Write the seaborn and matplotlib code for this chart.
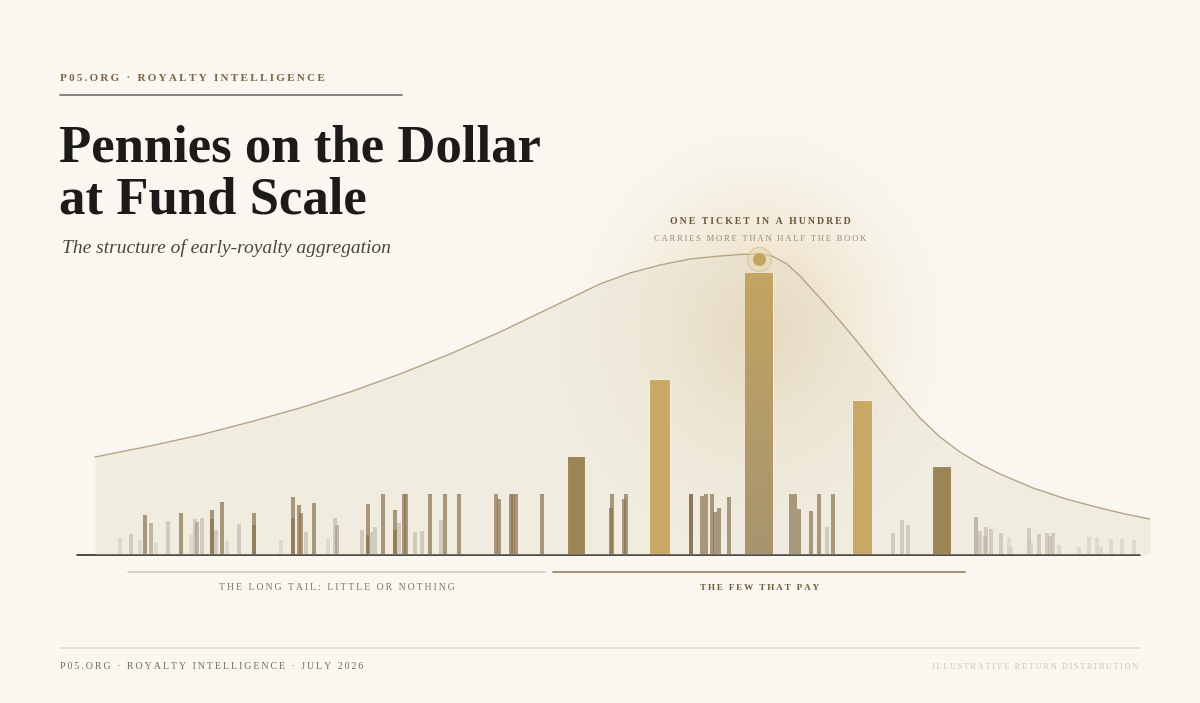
import numpy as np
import matplotlib
matplotlib.use('Agg')
import matplotlib.pyplot as plt
from matplotlib.colors import LinearSegmentedColormap
import seaborn as sns

W, H = 1200, 703
BG = '#faf7f0'

# thin bars: position along the book, return height, tone
tail_pos = [120, 131, 139.5, 145, 150.5, 155.5, 167.5, 181, 190.5, 194.5, 197, 202,
            212, 212, 216, 222, 226.5, 238.5, 253.5, 253.5, 280.5,
            293, 293, 299, 301, 306, 314, 328, 334.5, 337, 361.5, 367.5, 367.5,
            371, 374.5, 382.5, 394.5, 394.5, 399, 404, 406, 415, 421.5, 430,
            441, 445, 459,
            495.5, 499, 510.5, 513, 515.5, 542,
            611, 611.5, 624, 626,
            691, 702, 705.5, 712, 715, 719, 728.5,
            790.5, 795, 798.5, 811, 819, 827, 832.5,
            893, 901.5, 908,
            975.5, 979.5, 984.5, 985.5, 990.5, 1001, 1008.5, 1010.5, 1029, 1030.5,
            1038.5, 1046.5, 1049.5, 1052.5, 1059, 1079, 1089, 1097, 1100.5,
            1110.5, 1121.5, 1134]
tail_ret = [16, 20, 14, 39, 31, 11, 33, 41, 20, 35, 32, 36,
            44, 35, 24, 52, 13, 30, 41, 29, 14,
            57, 36, 49, 41, 22, 51, 15, 36, 29, 24, 50, 19,
            22, 27, 60, 44, 24, 31, 60, 60, 22, 23, 60,
            34, 60, 60,
            60, 55, 60, 60, 60, 60,
            46, 60, 55, 60,
            60, 58, 60, 60, 42, 46, 57,
            60, 60, 45, 43, 60, 27, 60,
            21, 34, 29,
            37, 23, 18, 27, 25, 21, 16, 7, 26, 12,
            20, 21, 18, 21, 9, 7, 17, 16, 7,
            15, 15, 14]
tail_tone = ['f', 'l', 'f', 'd', 'm', 'f', 'l', 'd', 'f', 'l', 'm', 'l',
             'd', 'd', 'l', 'd', 'f', 'l', 'd', 'd', 'f',
             'd', 'd', 'd', 'd', 'l', 'd', 'f', 'l', 'm', 'l', 'd', 'd',
             'l', 'l', 'd', 'd', 'd', 'l', 'd', 'd', 'l', 'l', 'd',
             'l', 'd', 'd',
             'd', 'd', 'd', 'd', 'd', 'd',
             'd', 'd', 'd', 'd',
             'k', 'd', 'd', 'd', 'd', 'd', 'd',
             'd', 'd', 'd', 'd', 'd', 'l', 'd',
             'l', 'l', 'l',
             'm', 'l', 'l', 'l', 'l', 'l', 'f', 'f', 'l', 'f',
             'l', 'l', 'l', 'l', 'f', 'f', 'f', 'f', 'f',
             'f', 'f', 'f']

# the few that pay
big_pos = [576, 659, 759, 862, 941.5]
big_ret = [98, 175, 281, 154, 88]
big_width = [18, 21, 28, 20, 19]
big_color = ['#9c8555', '#c8a864', '#b19a69', '#c8a864', '#9c8555']

# return distribution envelope
curve_x = [95, 150, 200, 250, 300, 350, 400, 450, 500, 550, 600, 630, 660, 690, 720,
           740, 760, 772, 787, 800, 820, 840, 860, 880, 900, 920, 940, 960, 980,
           1000, 1033, 1066, 1100, 1125, 1150]
curve_y = [97, 108, 119, 132, 146, 162, 180, 200, 222, 246, 270, 281, 289, 295, 298,
           299.5, 300, 298, 290, 278, 256, 233, 209, 184, 159, 136, 117, 102, 90,
           80, 66, 55, 46, 40, 35]

tone_style = {
    'k': ('#6e5c3c', 0.80),
    'd': ('#8a7450', 0.70),
    'm': ('#9a8d78', 0.55),
    'l': ('#b4ac9c', 0.50),
    'f': ('#cfc8ba', 0.50),
}

sns.set_theme(style='white', rc={'figure.facecolor': BG, 'axes.facecolor': 'none'})
plt.rcParams['font.family'] = ['Liberation Serif', 'DejaVu Serif']

fig = plt.figure(figsize=(12, 7.03), dpi=100)

# background glow
bg = fig.add_axes([0, 0, 1, 1])
bg.set_xlim(0, W)
bg.set_ylim(H, 0)
bg.axis('off')
gx, gy = np.meshgrid(np.linspace(0, W, 400), np.linspace(0, H, 236))
r = np.sqrt(((gx - 760) / 215) ** 2 + ((gy - 330) / 235) ** 2)
glow = np.zeros(gx.shape + (4,))
glow[..., 0] = 205 / 255
glow[..., 1] = 170 / 255
glow[..., 2] = 98 / 255
glow[..., 3] = 0.45 * np.clip(1 - r, 0, 1) ** 1.8
bg.imshow(glow, extent=(0, W, H, 0), interpolation='bilinear', aspect='auto', zorder=0)

# chart area
ax = fig.add_axes([77 / W, (H - 554) / H, (1150 - 77) / W, 354 / H])

ax.fill_between(curve_x, 0, curve_y, color='#e6dfcd', alpha=0.45, lw=0, zorder=1)
sns.lineplot(x=curve_x, y=curve_y, ax=ax, color='#b3a585', lw=1.0, sort=False, zorder=2)

for p, h, t in zip(tail_pos, tail_ret, tail_tone):
    c, a = tone_style[t]
    ax.bar(p, h, width=4, color=c, alpha=a, lw=0, zorder=3)

bars = ax.bar(big_pos, big_ret, width=big_width, color=big_color, edgecolor='#f3ecdc',
              lw=0.8, zorder=4)

# soft vertical gradient on the tallest bar
cmap = LinearSegmentedColormap.from_list('peak', ['#a8956f', '#b49c68', '#c3a563'])
grad = np.linspace(0, 1, 100)[:, None]
i = 2
im = ax.imshow(grad, cmap=cmap, origin='lower', aspect='auto', zorder=4.5,
               extent=(big_pos[i] - big_width[i] / 2, big_pos[i] + big_width[i] / 2,
                       0, big_ret[i]))
im.set_clip_path(bars[i])

ax.set_xlim(77, 1150)
ax.set_ylim(0, 354)
ax.axis('off')

# peak marker
ax.scatter([759], [295], s=300, facecolor='#e8d8b0', edgecolor='#d3bd8e', lw=1.0,
           alpha=0.6, zorder=5)
ax.scatter([759], [295], s=70, color='#c4a45e', zorder=6)

# baseline
bg.plot([77, 1140], [554.5, 554.5], color='#2e2b27', lw=1.2, zorder=6)


def fx(x):
    return x / W


def fy(y):
    return 1 - y / H


def spaced(s):
    return '\u2009'.join(s)


# header
fig.text(fx(60), fy(81), spaced('P05.ORG · ROYALTY INTELLIGENCE'), fontsize=8,
         color='#7a6646', fontweight='bold', va='baseline')
bg.plot([60, 402], [95, 95], color='#707070', lw=1.2)

fig.text(fx(59), fy(162), 'Pennies on the Dollar', fontsize=38, fontweight='bold',
         color='#1c1b19', va='baseline')
fig.text(fx(59), fy(213), 'at Fund Scale', fontsize=38, fontweight='bold',
         color='#1c1b19', va='baseline')
fig.text(fx(62), fy(253), 'The structure of early-royalty aggregation', fontsize=14,
         style='italic', color='#4a4540', va='baseline')

# annotation
fig.text(fx(760), fy(224), spaced('ONE TICKET IN A HUNDRED'), fontsize=7.0,
         fontweight='bold', color='#6b5636', ha='center', va='baseline')
fig.text(fx(760), fy(241), spaced('CARRIES MORE THAN HALF THE BOOK'), fontsize=6.2,
         color='#958b7b', ha='center', va='baseline')

# brackets
bg.plot([128, 545], [572, 572], color='#d0c9b9', lw=1.1)
bg.plot([553, 965], [572, 572], color='#9c8a66', lw=1.3)
fig.text(fx(337), fy(590), spaced('THE LONG TAIL: LITTLE OR NOTHING'), fontsize=7.0,
         color='#7d7465', ha='center', va='baseline')
fig.text(fx(760), fy(590), spaced('THE FEW THAT PAY'), fontsize=6.6, fontweight='bold',
         color='#6e5c3e', ha='center', va='baseline')

# footer
bg.plot([60, 1140], [648, 648], color='#e3ded3', lw=1.2)
fig.text(fx(60), fy(669), spaced('P05.ORG · ROYALTY INTELLIGENCE · JULY 2026'), fontsize=7.1,
         color='#776b58', va='baseline')
fig.text(fx(1138), fy(669), spaced('ILLUSTRATIVE RETURN DISTRIBUTION'), fontsize=6.0,
         color='#cdc5b5', ha='right', va='baseline')

fig.savefig('out.png', dpi=100, facecolor=BG)
